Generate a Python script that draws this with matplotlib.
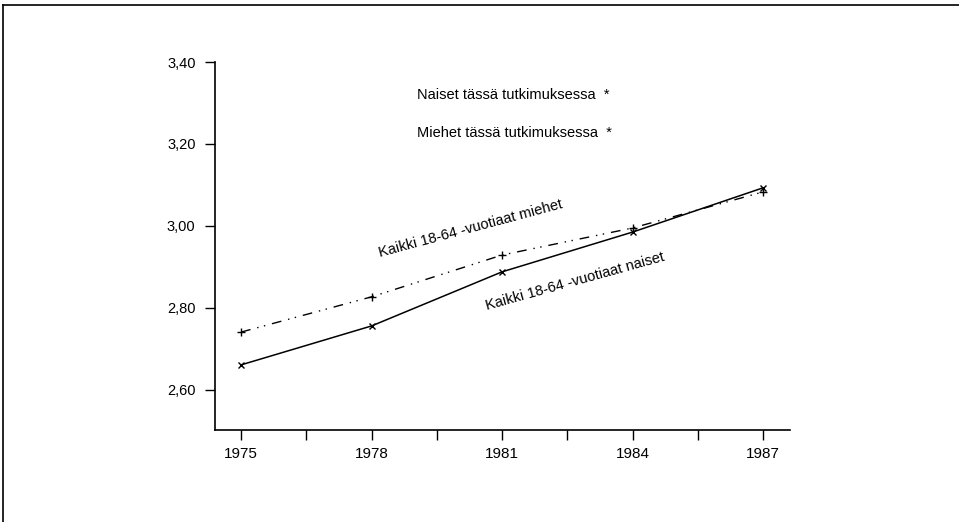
import matplotlib
matplotlib.use("Agg")
import matplotlib.pyplot as plt
from matplotlib.lines import Line2D
from matplotlib.ticker import FixedLocator

plt.rcParams['font.family'] = ['Liberation Sans', 'DejaVu Sans']

years = [1975, 1978, 1981, 1984, 1987]
women = [2.661, 2.756, 2.888, 2.985, 3.093]
men = [2.741, 2.827, 2.929, 2.995, 3.083]
yticks = [2.60, 2.80, 3.00, 3.20, 3.40]
ytick_labels = ["2,60", "2,80", "3,00", "3,20", "3,40"]
minor_years = [1976.5, 1979.5, 1982.5, 1985.5]

fig = plt.figure(figsize=(9.59, 5.22), dpi=100)
ax = fig.add_axes([0.2242, 0.1762, 0.5996, 0.705])

ax.plot(years, women, color='black', lw=1.1, marker='x', ms=5, mew=1)
ax.plot(years, men, color='black', lw=1.0, marker='+', ms=6, mew=1,
        dashes=(7, 5, 1, 4, 1, 5))

ax.set_xlim(1974.4, 1987.62)
ax.set_ylim(2.502, 3.40)
ax.set_xticks(years)
ax.set_xticklabels([str(y) for y in years])
ax.xaxis.set_minor_locator(FixedLocator(minor_years))
ax.set_yticks(yticks)
ax.set_yticklabels(ytick_labels)

for s in ['top', 'right']:
    ax.spines[s].set_visible(False)
for s in ['left', 'bottom']:
    ax.spines[s].set_linewidth(1.2)
ax.tick_params(axis='both', which='both', direction='out', length=7, width=1)
ax.tick_params(axis='x', which='major', pad=5, labelsize=11)
ax.tick_params(axis='y', which='major', pad=7, labelsize=10.5)

ax.text(1979.05, 3.32, "Naiset tässä tutkimuksessa  *", fontsize=10.5, va='center')
ax.text(1979.05, 3.227, "Miehet tässä tutkimuksessa  *", fontsize=10.5, va='center')
ax.text(1978.2, 2.924, "Kaikki 18-64 -vuotiaat miehet", fontsize=10.5,
        rotation=15, rotation_mode='anchor', va='baseline')
ax.text(1980.66, 2.795, "Kaikki 18-64 -vuotiaat naiset", fontsize=10.5,
        rotation=15.5, rotation_mode='anchor', va='baseline')

# scanned page frame (top and left edges)
fig.add_artist(Line2D([0.003, 1.0], [0.990, 0.990], color='black', lw=1.2,
                      transform=fig.transFigure))
fig.add_artist(Line2D([0.003, 0.003], [0.0, 0.990], color='black', lw=1.2,
                      transform=fig.transFigure))

fig.savefig("out.png", dpi=100)
